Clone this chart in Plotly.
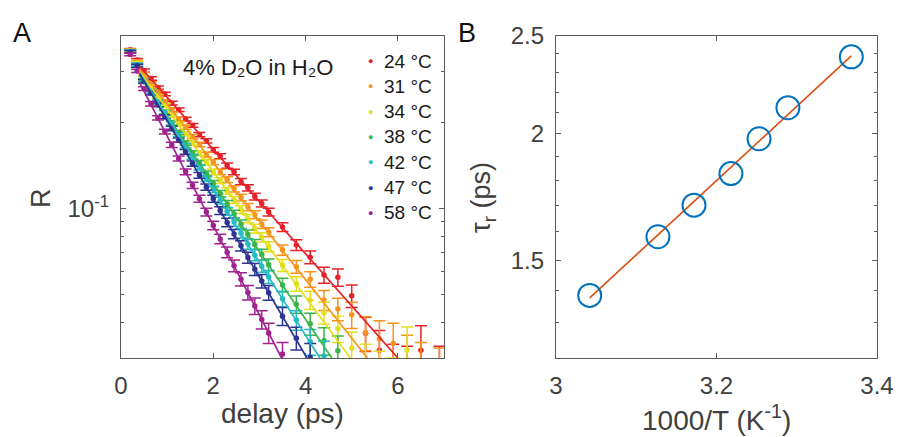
import math
import plotly.graph_objects as go

# ---------------- data: panel A ----------------
delay = [0.2, 0.35, 0.5, 0.65, 0.8, 0.95, 1.1, 1.25, 1.4, 1.55, 1.7, 1.85, 2.0, 2.15,
         2.3, 2.45, 2.6, 2.75, 2.9, 3.05, 3.2, 3.5, 3.8, 4.1, 4.4, 4.7, 5.0, 5.3,
         5.6, 5.9, 6.2, 6.5, 6.9]

err = [0.004, 0.004, 0.004, 0.004, 0.0035, 0.0035, 0.0035, 0.003, 0.003, 0.003, 0.003,
       0.003, 0.003, 0.003, 0.003, 0.003, 0.003, 0.003, 0.003, 0.003, 0.003, 0.003,
       0.0032, 0.0035, 0.0038, 0.004, 0.0045, 0.005, 0.0055, 0.006, 0.0065, 0.007, 0.007]

labels = ["24 °C", "31 °C", "34 °C", "38 °C", "42 °C", "47 °C", "58 °C"]
colors = ["#e4222a", "#f7941e", "#e3df1f", "#3bb54a", "#27bcc4", "#2e3492", "#a0238f"]

R_24 = [0.358, 0.330, 0.303, 0.284, 0.264, 0.251, 0.233, 0.221, 0.205, 0.195, 0.181,
        0.172, 0.160, 0.152, 0.141, 0.134, 0.124, 0.118, 0.110, 0.104, 0.097, 0.086,
        0.0745, 0.0675, 0.0585, 0.0574, 0.0495, 0.0366, 0.0319, 0.0275, 0.0265, 0.0319, 0.026]
R_31 = [0.356, 0.325, 0.294, 0.273, 0.255, 0.236, 0.221, 0.205, 0.192, 0.178, 0.167,
        0.154, 0.145, 0.134, 0.126, 0.117, 0.109, 0.101, 0.095, 0.088, 0.0825, 0.0715,
        0.0625, 0.0565, 0.0478, 0.0445, 0.0425, 0.0368, 0.0350, 0.0337, 0.0295, 0.0270, 0.0255]
R_34 = [0.355, 0.322, 0.287, 0.266, 0.246, 0.229, 0.211, 0.197, 0.182, 0.169, 0.156,
        0.145, 0.134, 0.125, 0.115, 0.107, 0.099, 0.092, 0.085, 0.0792, 0.0735, 0.0632,
        0.0545, 0.0478, 0.0432, 0.0380, 0.0325, 0.0285, 0.0262, 0.0240, 0.0320]
R_38 = [0.352, 0.316, 0.277, 0.255, 0.235, 0.217, 0.199, 0.184, 0.169, 0.156, 0.144,
        0.132, 0.122, 0.1125, 0.1035, 0.0955, 0.088, 0.081, 0.0748, 0.069, 0.0635, 0.0540,
        0.0462, 0.0395, 0.0345, 0.0318]
R_42 = [0.354, 0.318, 0.281, 0.257, 0.235, 0.216, 0.197, 0.181, 0.1655, 0.1515, 0.139,
        0.127, 0.1165, 0.1065, 0.0976, 0.0895, 0.0818, 0.075, 0.0686, 0.0628, 0.0576,
        0.0483, 0.0407, 0.0342, 0.0305]
R_47 = [0.352, 0.315, 0.278, 0.253, 0.230, 0.209, 0.190, 0.173, 0.1575, 0.1433, 0.1304,
        0.1186, 0.108, 0.0982, 0.0893, 0.0813, 0.074, 0.0673, 0.0612, 0.0557, 0.0507,
        0.042, 0.0352, 0.0302]
R_58 = [0.345, 0.302, 0.262, 0.232, 0.207, 0.1855, 0.1665, 0.1494, 0.1341, 0.1204, 0.1081,
        0.097, 0.0871, 0.0782, 0.0702, 0.063, 0.0565, 0.0508, 0.0456, 0.0409, 0.0367, 0.031]
series_R = [R_24, R_31, R_34, R_38, R_42, R_47, R_58]

# fitted single-exponential lines (start / end points)
fit_t0 = [0.4, 0.4, 0.4, 0.4, 0.4, 0.4, 0.4]
fit_R0 = [0.3139, 0.3064, 0.3009, 0.2922, 0.2976, 0.2959, 0.2755]
fit_t1 = [6.0, 5.34, 4.97, 4.57, 4.31, 4.03, 3.48]
fit_R1 = [0.03, 0.03, 0.03, 0.03, 0.03, 0.03, 0.03]

# ---------------- data: panel B ----------------
invT = [3.042, 3.127, 3.172, 3.218, 3.253, 3.289, 3.368]
tau_r = [1.384, 1.582, 1.700, 1.827, 1.978, 2.123, 2.384]
fitB_x = [3.042, 3.368]
fitB_tau = [1.376, 2.389]

# ---------------- figure ----------------
W, H = 898, 437
FONT = "Liberation Sans"
AX = "#5a5a5a"

def px(x):
    return x / W

def py(y):
    return 1 - y / H

fig = go.Figure()

for R, c in zip(series_R, colors):
    n = len(R)
    fig.add_trace(go.Scatter(
        x=delay[:n], y=R, mode="markers",
        marker=dict(size=5.5, color=c),
        error_y=dict(type="data", array=err[:n], color=c, thickness=1.5, width=6),
        xaxis="x", yaxis="y", showlegend=False))

for i, c in enumerate(colors):
    fig.add_trace(go.Scatter(
        x=[fit_t0[i], fit_t1[i]], y=[fit_R0[i], fit_R1[i]], mode="lines",
        line=dict(color=c, width=1.7), xaxis="x", yaxis="y", showlegend=False))

fig.add_trace(go.Scatter(
    x=fitB_x, y=fitB_tau, mode="lines", line=dict(color="#d95319", width=1.7),
    xaxis="x2", yaxis="y2", showlegend=False))
fig.add_trace(go.Scatter(
    x=invT, y=tau_r, mode="markers",
    marker=dict(symbol="circle-open", size=23, color="#0072bd", line=dict(width=2)),
    xaxis="x2", yaxis="y2", showlegend=False))

common = dict(showline=True, linecolor=AX, linewidth=1.3, mirror="ticks",
              ticks="inside", ticklen=5, tickcolor=AX, tickwidth=1.2,
              showgrid=False, zeroline=False, automargin=False,
              tickfont=dict(family=FONT, size=24, color="#404040"))

ydom = [py(358), py(36)]

fig.update_layout(
    template="none",
    width=W, height=H, margin=dict(l=0, r=0, t=0, b=0, pad=0), autosize=False,
    paper_bgcolor="white", plot_bgcolor="white",
    xaxis=dict(domain=[px(121), px(444)], range=[0, 7], tickvals=[0, 2, 4, 6],
               anchor="y", ticklabelstandoff=6, **common),
    yaxis=dict(domain=ydom, type="log", range=[math.log10(0.03), math.log10(0.4)],
               tickvals=[0.1], ticktext=["10<sup>-1</sup>"], anchor="x",
               ticklabelstandoff=6,
               minor=dict(tickmode="array",
                          tickvals=[0.03, 0.04, 0.05, 0.06, 0.07, 0.08, 0.09, 0.2, 0.3],
                          ticks="inside", ticklen=3, tickcolor=AX, showgrid=False),
               **common),
    xaxis2=dict(domain=[px(556), px(877)], range=[3, 3.4], tickvals=[3, 3.2, 3.4],
                ticktext=["3", "3.2", "3.4"], anchor="y2", ticklabelstandoff=6, **common),
    yaxis2=dict(domain=ydom, type="log", range=[math.log10(1.2), math.log10(2.5)],
                tickvals=[1.5, 2, 2.5], ticktext=["1.5", "2", "2.5"], anchor="x2",
                ticklabelstandoff=6,
                minor=dict(tickmode="array",
                           tickvals=[1.3, 1.4, 1.6, 1.7, 1.8, 1.9, 2.1, 2.2, 2.3, 2.4],
                           ticks="inside", ticklen=3, tickcolor=AX, showgrid=False),
                **common),
)

ann = []
def text(x, y, s, size, color="#222", angle=0, xanchor="center"):
    ann.append(dict(x=px(x), y=py(y), xref="paper", yref="paper", text=s,
                    showarrow=False, textangle=angle, xanchor=xanchor, yanchor="middle",
                    font=dict(family=FONT, size=size, color=color)))

text(22, 33, "A", 27, "#111")
text(467, 33, "B", 27, "#111")
text(41, 198, "R", 27, "#404040", angle=-90)
text(282, 413, "delay (ps)", 28, "#404040")
text(483, 198, "τ<sub>r</sub> (ps)", 27, "#404040", angle=-90)
text(716, 418, "1000/T (K<sup>-1</sup>)", 28, "#404040")
text(258, 67, "4% D₂O in H₂O", 22, "#1a1a1a")

for i, (lab, c) in enumerate(zip(labels, colors)):
    yy = 61 + 25.3 * i
    text(370, yy, "●", 9, c)
    text(382, yy, lab, 19, "#1a1a1a", xanchor="left")

fig.update_layout(annotations=ann)
fig.write_html("out.html", config={"displayModeBar": False},
               post_script="document.body.style.margin='0';document.body.style.overflow='hidden';")
